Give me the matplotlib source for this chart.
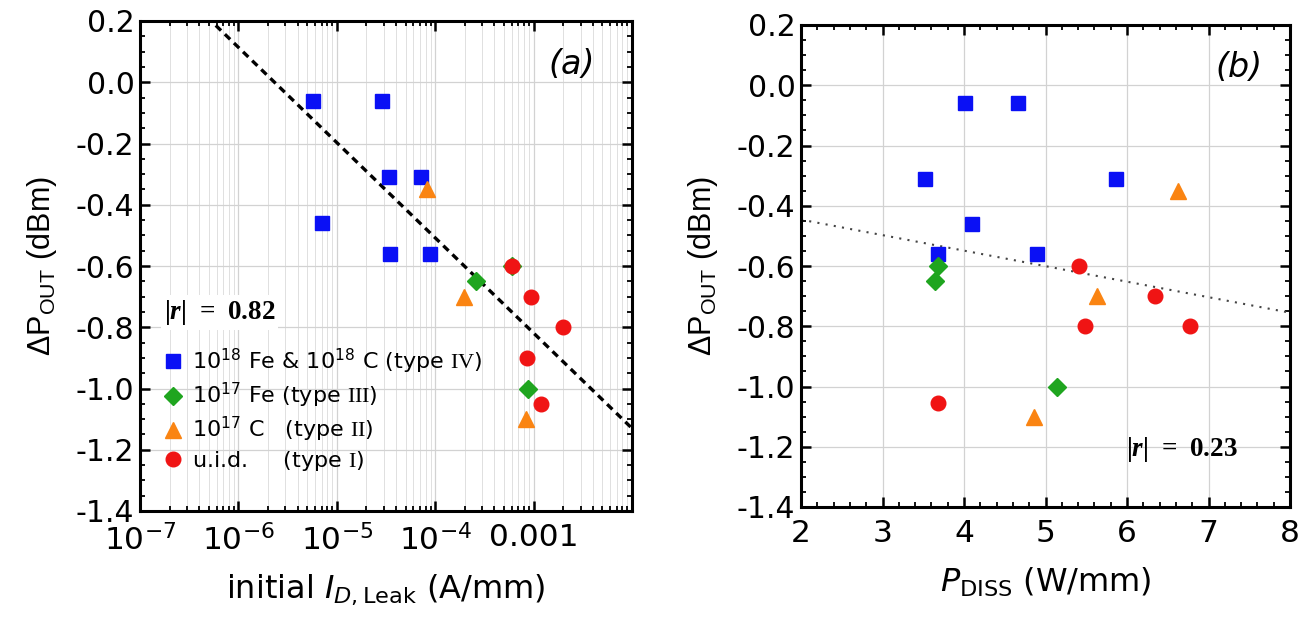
import numpy as np
import matplotlib
matplotlib.use("Agg")
import matplotlib.pyplot as plt
from matplotlib.ticker import MultipleLocator, LogLocator, FixedLocator, FixedFormatter, NullFormatter

plt.rcParams['font.family'] = ['DejaVu Sans']
plt.rcParams['mathtext.fontset'] = 'custom'
plt.rcParams['mathtext.rm'] = 'DejaVu Sans'
plt.rcParams['mathtext.it'] = 'DejaVu Sans:italic'
plt.rcParams['mathtext.sf'] = 'Liberation Sans'
plt.rcParams['mathtext.bf'] = 'Liberation Serif:bold'
plt.rcParams['mathtext.tt'] = 'Liberation Serif'
try:
    plt.rcParams['mathtext.bfit'] = 'Liberation Serif:italic:bold'
    HAS_BFIT = True
except Exception:
    HAS_BFIT = False

# ---------------- data ----------------
series_labels = [r'$10^{18}$ Fe & $10^{18}$ C (type $\mathtt{IV}$)',
                 r'$10^{17}$ Fe (type $\mathtt{III}$)',
                 r'$10^{17}$ C   (type $\mathtt{II}$)',
                 r'u.i.d.     (type $\mathtt{I}$)']
series_colors = ['#0a10f5', '#1fa51f', '#fa8412', '#f01414']
series_markers = ['s', 'D', '^', 'o']

# panel (a): initial leakage current (A/mm) vs delta Pout (dBm)
a_x_fe_c = [5.7e-6, 2.86e-5, 3.4e-5, 7.2e-5, 7.0e-6, 3.5e-5, 8.8e-5]
a_y_fe_c = [-0.06, -0.06, -0.31, -0.31, -0.46, -0.56, -0.56]
a_x_fe = [2.6e-4, 6.0e-4, 8.7e-4]
a_y_fe = [-0.65, -0.60, -1.00]
a_x_c = [8.3e-5, 1.96e-4, 8.3e-4]
a_y_c = [-0.35, -0.70, -1.10]
a_x_uid = [6.0e-4, 9.4e-4, 2.0e-3, 8.5e-4, 1.2e-3]
a_y_uid = [-0.60, -0.70, -0.80, -0.90, -1.05]

# panel (b): dissipated power (W/mm) vs delta Pout (dBm)
b_x_fe_c = [3.52, 4.01, 4.66, 5.86, 4.10, 3.68, 4.89]
b_y_fe_c = [-0.31, -0.06, -0.06, -0.31, -0.46, -0.56, -0.56]
b_x_fe = [3.68, 3.64, 5.14]
b_y_fe = [-0.60, -0.65, -1.00]
b_x_c = [6.62, 5.63, 4.86]
b_y_c = [-0.35, -0.70, -1.10]
b_x_uid = [5.41, 6.34, 5.48, 6.77, 3.68]
b_y_uid = [-0.60, -0.70, -0.80, -0.80, -1.055]

# linear fits: y = intercept + slope * (log10(x) | x)
fit_a_intercept, fit_a_slope = -1.752, -0.311
fit_b_intercept, fit_b_slope = -0.343, -0.0515
r_a_text = '0.82'
r_b_text = '0.23'

a_xticks = [1e-7, 1e-6, 1e-5, 1e-4, 1e-3]
a_xticklabels = [r'$10^{-7}$', r'$10^{-6}$', r'$10^{-5}$', r'$10^{-4}$', '0.001']
y_ticks = [0.2, 0.0, -0.2, -0.4, -0.6, -0.8, -1.0, -1.2, -1.4]
b_xticks = [2, 3, 4, 5, 6, 7, 8]

# ---------------- figure ----------------
fig = plt.figure(figsize=(13.07, 6.22), dpi=100)
axA = fig.add_axes([140/1307, 1-511/622, (632-140)/1307, (511-21)/622])
axB = fig.add_axes([801/1307, 1-507/622, (1290-801)/1307, (507-25)/622])

ytick_fs = 21.5
xtick_fs = 22.5
label_fs = 23
ylabel_fs = 22
ms = {'s': 10, 'D': 9, '^': 11, 'o': 10.5}

def style(ax):
    for sp in ax.spines.values():
        sp.set_linewidth(2.2)
    ax.tick_params(which='both', direction='in', top=True, right=True, width=1.8)
    ax.tick_params(which='major', length=7)
    ax.tick_params(axis='y', which='major', labelsize=ytick_fs, pad=4)
    ax.tick_params(axis='x', which='major', labelsize=xtick_fs, pad=9)
    ax.tick_params(which='minor', length=3.5, width=1.3)
    ax.set_axisbelow(True)

def rtext(val):
    if HAS_BFIT:
        return r'$\mathbf{|}\mathbfit{r}\mathbf{|\;=\;' + val + '}$'
    return r'$\mathbf{|r|\;=\;' + val + '}$'

ylab = r'$\mathsf{\Delta P}_{\mathsf{OUT}}\mathsf{\ (dBm)}$'

# ---- panel (a)
axA.set_xscale('log')
axA.set_xlim(1e-7, 1e-2)
axA.set_ylim(-1.4, 0.2)
axA.xaxis.set_major_locator(FixedLocator(a_xticks))
axA.xaxis.set_major_formatter(FixedFormatter(a_xticklabels))
axA.xaxis.set_minor_locator(LogLocator(base=10, subs=np.arange(2, 10), numticks=20))
axA.xaxis.set_minor_formatter(NullFormatter())
axA.yaxis.set_major_locator(FixedLocator(y_ticks))
axA.set_yticklabels([f'{v:.1f}' for v in y_ticks])
axA.yaxis.set_minor_locator(MultipleLocator(0.05))
axA.grid(True, which='major', color='#d2d2d2', lw=0.9)
axA.grid(True, which='minor', axis='x', color='#e0e0e0', lw=0.7)
style(axA)

xa = np.logspace(-7, -2, 200)
axA.plot(xa, fit_a_intercept + fit_a_slope*np.log10(xa), color='black',
         ls=(0, (2.2, 1.6)), lw=2.4, zorder=2)

a_sets = [(a_x_fe_c, a_y_fe_c), (a_x_fe, a_y_fe), (a_x_c, a_y_c), (a_x_uid, a_y_uid)]
handles = []
for (xs, ys), lab, col, mk in zip(a_sets, series_labels, series_colors, series_markers):
    h, = axA.plot(xs, ys, ls='none', marker=mk, ms=ms[mk], color=col, mec=col, label=lab, zorder=3)
    handles.append(h)

leg = axA.legend(handles=handles, loc='upper left', bbox_to_anchor=(0.045, 0.335),
                 fontsize=16, frameon=False,
                 handletextpad=0.35, labelspacing=0.22, borderpad=0.0, handlelength=1.0,
                 borderaxespad=0.0)

axA.text(1.75e-7, -0.752, rtext(r_a_text), fontsize=19.5, va='center', ha='left',
         bbox=dict(facecolor='white', edgecolor='none', pad=2), zorder=4)
axA.text(2.45e-3, 0.057, '(a)', fontsize=24, style='italic', ha='center', va='center')
axA.set_xlabel(r'initial $I_{D,\mathrm{Leak}}$ (A/mm)', fontsize=label_fs, labelpad=12)
axA.set_ylabel(ylab, fontsize=ylabel_fs, labelpad=12)

# ---- panel (b)
axB.set_xlim(2, 8)
axB.set_ylim(-1.4, 0.2)
axB.xaxis.set_major_locator(FixedLocator(b_xticks))
axB.xaxis.set_minor_locator(MultipleLocator(0.2))
axB.yaxis.set_major_locator(FixedLocator(y_ticks))
axB.set_yticklabels([f'{v:.1f}' for v in y_ticks])
axB.yaxis.set_minor_locator(MultipleLocator(0.05))
axB.grid(True, which='major', color='#d2d2d2', lw=0.9)
style(axB)

xb = np.linspace(2, 8, 50)
axB.plot(xb, fit_b_intercept + fit_b_slope*xb, color='#444444', ls=(0, (1, 3)), lw=1.5, zorder=2)

b_sets = [(b_x_fe_c, b_y_fe_c), (b_x_fe, b_y_fe), (b_x_c, b_y_c), (b_x_uid, b_y_uid)]
for (xs, ys), col, mk in zip(b_sets, series_colors, series_markers):
    axB.plot(xs, ys, ls='none', marker=mk, ms=ms[mk], color=col, mec=col, zorder=3)

axB.text(6.67, -1.21, rtext(r_b_text), fontsize=19.5, va='center', ha='center', zorder=4)
axB.text(7.38, 0.06, '(b)', fontsize=24, style='italic', ha='center', va='center')
axB.set_xlabel(r'$P_{\mathrm{DISS}}$ (W/mm)', fontsize=label_fs, labelpad=12)
axB.set_ylabel(ylab, fontsize=ylabel_fs, labelpad=12)

fig.savefig('out.png', dpi=100, facecolor='white')
